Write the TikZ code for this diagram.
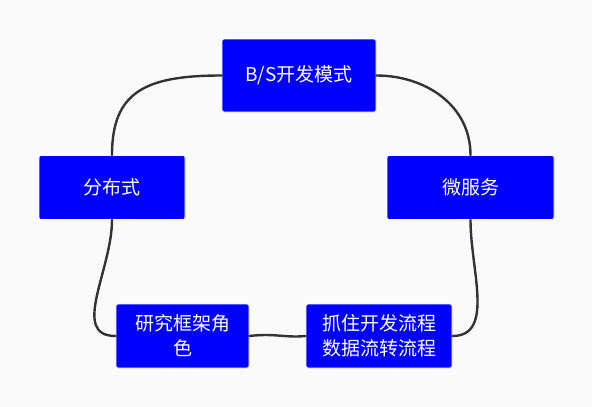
\documentclass[tikz,border=0pt]{standalone}
\usepackage{fontspec}
\setmainfont{Noto Sans CJK SC}
\definecolor{boxblue}{RGB}{0,0,255}
\definecolor{linkgray}{RGB}{51,51,51}
\definecolor{paper}{RGB}{250,250,250}
\begin{document}
\begin{tikzpicture}[x=1pt,y=-1pt,
	box/.style={rectangle,rounded corners=2pt,fill=boxblue,draw=white,line width=0.8pt,
		text=white,font=\fontsize{19}{25}\selectfont,align=center,inner sep=0pt},
	link/.style={draw=linkgray,line width=2.4pt,line cap=round}]
	\fill [paper] (0,0) rectangle (592,407);
	\useasboundingbox (0,0) rectangle (592,407);
	\node [box,minimum width=154pt,minimum height=73pt] (bs) at (299,75.5) {B/S开发模式};
	\node [box,minimum width=146pt,minimum height=64pt] (fb) at (112,187.5) {分布式};
	\node [box,minimum width=167pt,minimum height=64pt] (wf) at (470.5,187.5) {微服务};
	\node [box,minimum width=133pt,minimum height=64pt] (yj) at (182.5,336) {研究框架角\\色};
	\node [box,minimum width=146pt,minimum height=64pt] (zz) at (379,336) {抓住开发流程\\数据流转流程};
	% connectors
	\draw [link] (bs.west) .. controls (145,75.5) and (112,92) .. (fb.north);
	\draw [link] (bs.east) .. controls (425,75.5) and (470.5,105) .. (wf.north);
	\draw [link] (fb.south) .. controls (112,270) and (70,336) .. (yj.west);
	\draw [link] (wf.south) .. controls (470.5,270) and (495,336) .. (zz.east);
	\draw [link] (yj.east) .. controls (275,333) and (285,338) .. (zz.west);
\end{tikzpicture}
\end{document}
